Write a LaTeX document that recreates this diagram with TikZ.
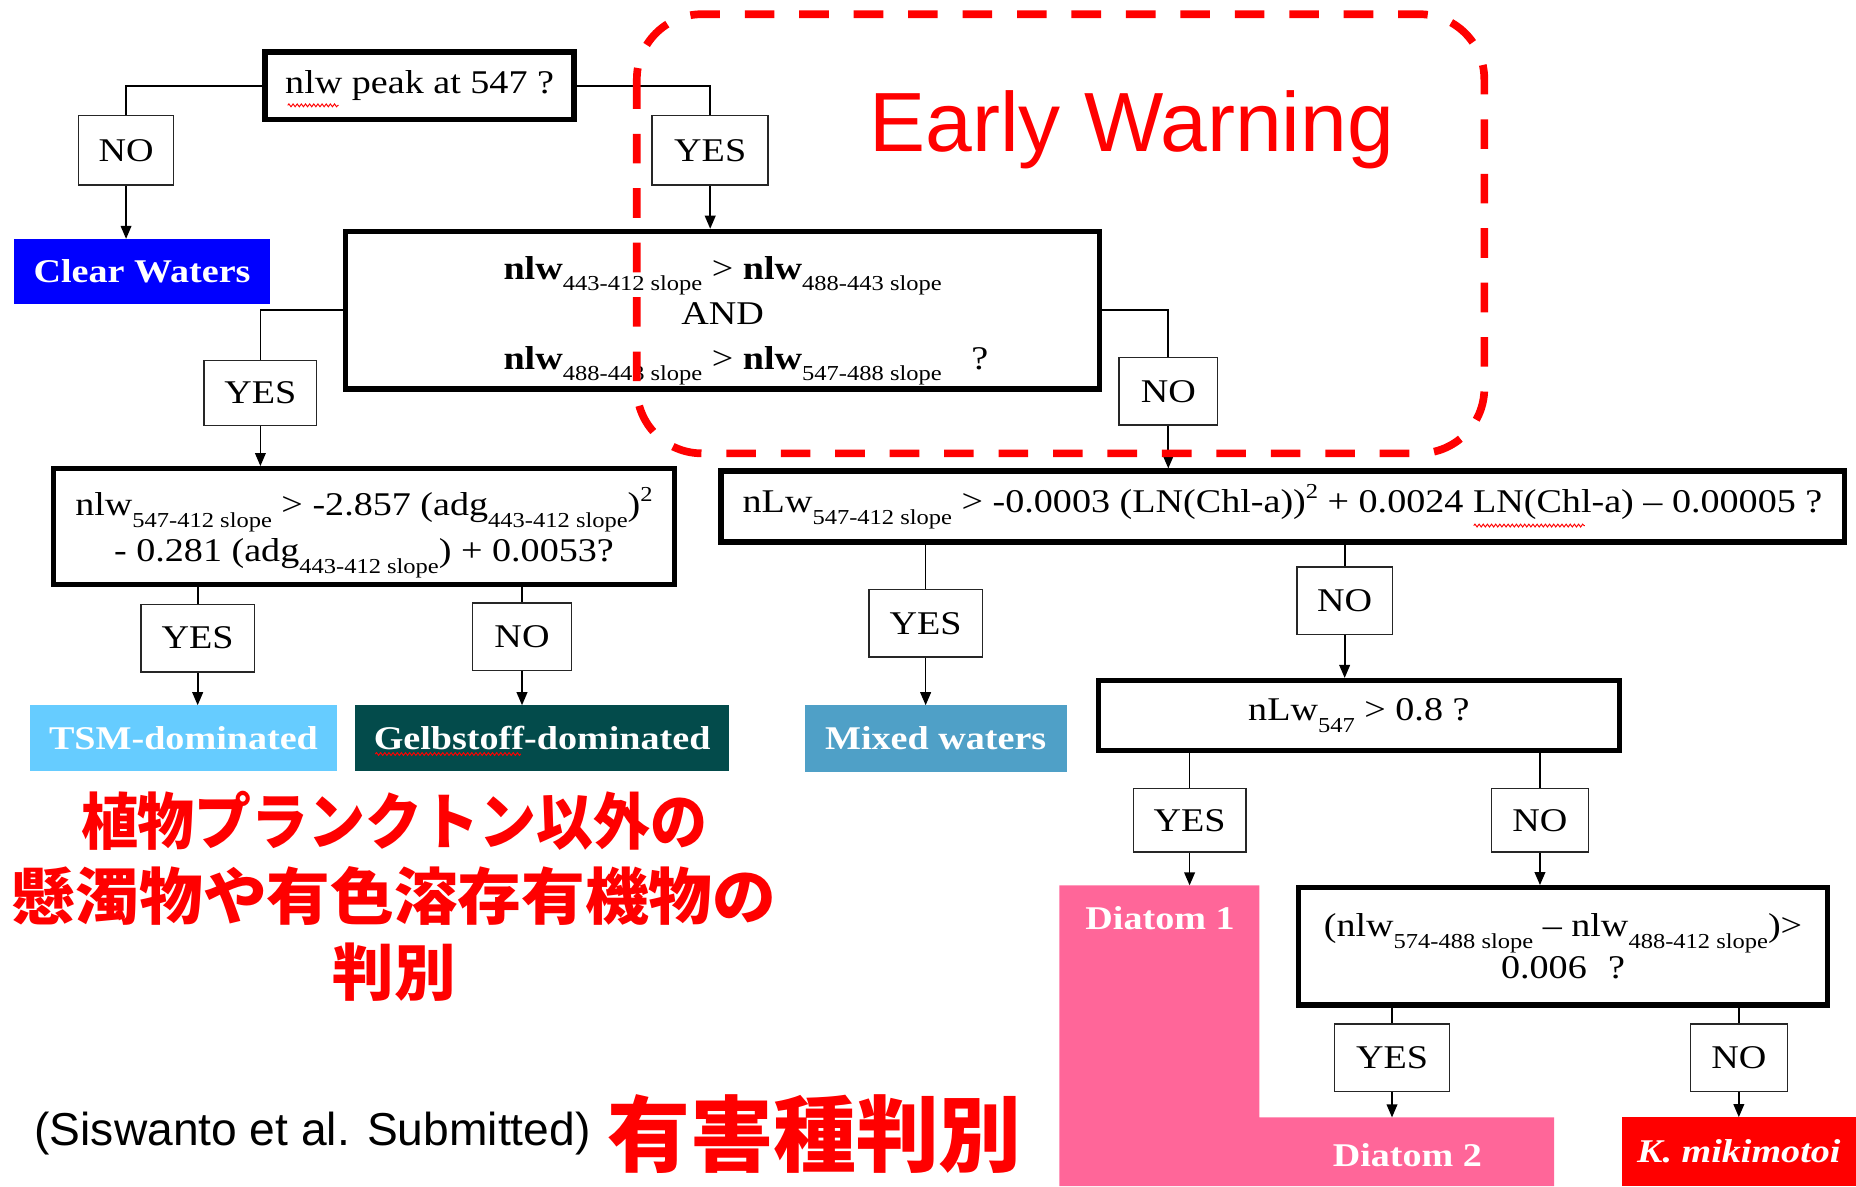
\documentclass[tikz,border=0pt]{standalone}
\usepackage{fontspec}
\setmainfont{Liberation Serif}[FakeStretch=1.15]
\newfontfamily\sansEW{Liberation Sans}
\newfontfamily\cjk{Noto Sans CJK JP}
\usetikzlibrary{arrows.meta,decorations.pathmorphing}
\newcommand\sbx[1]{\raisebox{-10pt}{\fontsize{18}{18}\selectfont #1}}
\newcommand\spx[1]{\raisebox{12pt}{\fontsize{18}{18}\selectfont #1}}
\definecolor{cwblue}{RGB}{0,0,255}
\definecolor{tsmblue}{RGB}{102,204,255}
\definecolor{gelbc}{RGB}{3,75,75}
\definecolor{mixedc}{RGB}{79,160,199}
\definecolor{diatomc}{RGB}{255,102,153}
\definecolor{kred}{RGB}{255,0,0}
\definecolor{ewred}{RGB}{255,0,0}
\tikzset{
  qbox/.style={draw=black, line width=4.5pt, fill=white, inner sep=0pt, align=center, font=\fontsize{28}{38}\selectfont},
  qtext/.style={inner sep=0pt, align=center, font=\fontsize{28}{38}\selectfont},
  lbl/.style={draw=black!85, line width=1.3pt, fill=white, inner sep=0pt, font=\fontsize{28}{34}\selectfont},
  res/.style={inner sep=0pt, text=white, font=\fontsize{28}{34}\selectfont\bfseries},
  conn/.style={line width=1.4pt},
  arr/.style={conn, -{Triangle[length=11pt,width=9pt]}},
  squig/.style={red, line width=0.8pt, decorate, decoration={snake, amplitude=1.2pt, segment length=3.5pt}}
}
\begin{document}
\begin{tikzpicture}[x=1pt,y=-1pt]
\useasboundingbox (0,0) rectangle (1568,1002);
% result areas
\fill[diatomc] (895,748) -- (1064,748) -- (1064,944) -- (1313,944) -- (1313,1002) -- (895,1002) -- cycle;
\coordinate (d1top) at (1005,748);
\coordinate (d2top) at (1176,944);
\node[res] (d1) at (980,776) {Diatom 1};
\node[res] (d2) at (1189,976) {Diatom 2};
\node[res, fill=kred, minimum width=198pt, minimum height=58pt] (kbox) at (1469,973) {\itshape K. mikimotoi};
\node[res, fill=cwblue, minimum width=216pt, minimum height=55pt] (cw) at (120,229.5) {Clear Waters};
\node[res, fill=tsmblue, minimum width=260pt, minimum height=55pt] (tsm) at (155,623.5) {TSM-dominated};
\node[res, fill=gelbc, minimum width=316pt, minimum height=55pt] (gelb) at (458,623.5) {Gelbstoff-dominated};
\node[res, fill=mixedc, minimum width=221pt, minimum height=56pt] (mixed) at (790.5,624) {Mixed waters};
% question boxes
\node[qbox, minimum width=261pt, minimum height=57pt] (q1) at (354.5,72.5) {nlw peak at 547 ?};
\node[qbox, minimum width=637pt, minimum height=133pt] (q2) at (610.5,262) {};
\node[qtext] (q2t) at (610.5,271)
  {\textbf{nlw}\sbx{443-412 slope} > \textbf{nlw}\sbx{488-443 slope}\\AND\\\textbf{nlw}\sbx{488-443 slope} > \textbf{nlw}\sbx{547-488 slope}\rlap{\hspace{25pt}?}};
\node[qbox, minimum width=525pt, minimum height=98pt] (q3) at (307.5,445) {};
\node[qtext, font=\fontsize{28}{39}\selectfont] (q3t) at (307.5,450)
  {nlw\sbx{547-412 slope} > -2.857 (adg\sbx{443-412 slope})\spx{2}\\- 0.281 (adg\sbx{443-412 slope}) + 0.0053?};
\node[qbox, minimum width=949pt, minimum height=60pt] (q4) at (1083.5,428)
  {nLw\sbx{547-412 slope} > -0.0003 (LN(Chl-a))\spx{2} + 0.0024 LN(Chl-a) – 0.00005 ?};
\node[qbox, minimum width=440pt, minimum height=59pt] (q5) at (1148,604.5) {nLw\sbx{547} > 0.8 ?};
\node[qbox, minimum width=447pt, minimum height=99pt, font=\fontsize{28}{36}\selectfont] (q6) at (1320.5,799.5)
  {(nlw\sbx{574-488 slope} – nlw\sbx{488-412 slope})>\\0.006\hspace{18pt}?};
% yes/no labels
\node[lbl, minimum width=80pt, minimum height=59pt] (no1) at (106.5,127) {NO};
\node[lbl, minimum width=98pt, minimum height=59pt] (yes1) at (600,127) {YES};
\node[lbl, minimum width=95pt, minimum height=55pt] (yes2) at (220,332) {YES};
\node[lbl, minimum width=83pt, minimum height=57pt] (no2) at (987,330.5) {NO};
\node[lbl, minimum width=96pt, minimum height=57pt] (yes3) at (167,539) {YES};
\node[lbl, minimum width=84pt, minimum height=57pt] (no3) at (441,538) {NO};
\node[lbl, minimum width=96pt, minimum height=57pt] (yes4) at (782,526.5) {YES};
\node[lbl, minimum width=81pt, minimum height=57pt] (no4) at (1136,507.5) {NO};
\node[lbl, minimum width=95pt, minimum height=54pt] (yes5) at (1005,693) {YES};
\node[lbl, minimum width=82pt, minimum height=54pt] (no5) at (1301,693) {NO};
\node[lbl, minimum width=97pt, minimum height=57pt] (yes6) at (1176,893.5) {YES};
\node[lbl, minimum width=82pt, minimum height=57pt] (no6) at (1469,893.5) {NO};
% connectors
\draw[conn] (q1.west) -| (no1.north);
\draw[arr] (no1.south) -- (no1.south |- cw.north);
\draw[conn] (q1.east) -| (yes1.north);
\draw[arr] (yes1.south) -- (yes1.south |- q2.north);
\draw[conn] (q2.west) -| (yes2.north);
\draw[arr] (yes2.south) -- (yes2.south |- q3.north);
\draw[conn] (q2.east) -| (no2.north);
\draw[arr] (no2.south) -- (no2.south |- q4.north);
\draw[conn] (q3.south -| yes3.north) -- (yes3.north);
\draw[arr] (yes3.south) -- (yes3.south |- tsm.north);
\draw[conn] (q3.south -| no3.north) -- (no3.north);
\draw[arr] (no3.south) -- (no3.south |- gelb.north);
\draw[conn] (q4.south -| yes4.north) -- (yes4.north);
\draw[arr] (yes4.south) -- (yes4.south |- mixed.north);
\draw[conn] (q4.south -| no4.north) -- (no4.north);
\draw[arr] (no4.south) -- (no4.south |- q5.north);
\draw[conn] (q5.south -| yes5.north) -- (yes5.north);
\draw[arr] (yes5.south) -- (d1top);
\draw[conn] (q5.south -| no5.north) -- (no5.north);
\draw[arr] (no5.south) -- (no5.south |- q6.north);
\draw[conn] (q6.south -| yes6.north) -- (yes6.north);
\draw[arr] (yes6.south) -- (d2top);
\draw[conn] (q6.south -| no6.north) -- (no6.north);
\draw[arr] (no6.south) -- (no6.south |- kbox.north);
% spell-check squiggles
\draw[squig] (243,89) -- (286,89);
\draw[squig] (317,637) -- (440,637);
\draw[squig] (1245,444) -- (1339,444);
% annotations
\draw[ewred, line width=6.5pt, dash pattern=on 25pt off 21pt, rounded corners=55pt] (538,12) rectangle (1254,383);
\node[anchor=base, inner sep=0pt, text=ewred, font=\sansEW\fontsize{71}{80}\selectfont] (ew) at (956,128) {Early Warning};
\node[align=center, inner sep=0pt, text=red, font=\cjk\bfseries\fontsize{52}{64}\selectfont] (jp) at (333,757)
  {\scalebox{0.925}[1]{植物プランクトン以外の}\\\scalebox{1.035}[1]{懸濁物や有色溶存有機物の}\\判別};
\node[inner sep=0pt, font=\sansEW\fontsize{39}{44}\selectfont] (cite) at (264,958) {(Siswanto et al. Submitted)};
\node[anchor=west, inner sep=0pt, text=red, font=\cjk\bfseries\fontsize{70}{80}\selectfont] (yg) at (513,958) {有害種判別};
\end{tikzpicture}
\end{document}
